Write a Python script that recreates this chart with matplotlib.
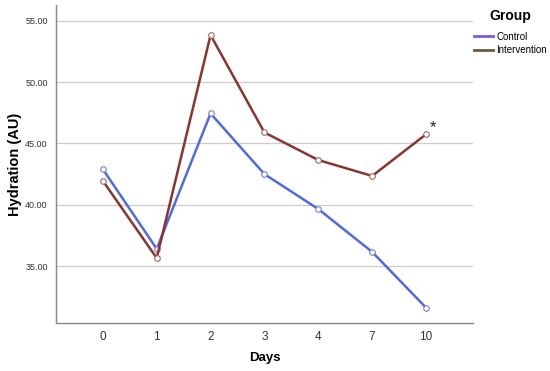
import matplotlib
matplotlib.use("Agg")
import matplotlib.pyplot as plt
from matplotlib.lines import Line2D

days = ["0", "1", "2", "3", "4", "7", "10"]
control = [42.9, 36.4, 47.45, 42.5, 39.65, 36.15, 31.6]
intervention = [41.95, 35.65, 53.85, 45.9, 43.65, 42.35, 45.75]
yticks = [35.0, 40.0, 45.0, 50.0, 55.0]

plt.rcParams['font.family'] = ['Liberation Sans', 'DejaVu Sans']

fig = plt.figure(figsize=(5.5, 3.71), dpi=100)
ax = fig.add_axes([0.1018, 0.1294, 0.758, 0.857])

x = list(range(len(days)))
ax.plot(x, control, color='#4f6bde', lw=1.8, marker='o', ms=4, mfc='white',
        mec='#7a7ad8', mew=0.8, zorder=3)
ax.plot(x, intervention, color='#8a3430', lw=1.8, marker='o', ms=4, mfc='white',
        mec='#9a6a60', mew=0.8, zorder=4)
ax.text(x[-1] + 0.12, intervention[-1] + 0.55, '*', fontsize=12, color='#222222',
        ha='center', va='center')

ax.set_xlim(-0.87, 6.87)
ax.set_ylim(30.35, 56.3)
ax.set_xticks(x)
ax.set_xticklabels(days, fontsize=8.5, color='#333333')
ax.set_yticks(yticks)
ax.set_yticklabels([f"{v:.2f}" for v in yticks], fontsize=6.5, color='#333333')
ax.tick_params(length=0, pad=6)
ax.tick_params(axis='x', pad=6)
ax.grid(axis='y', color='#cccccc', lw=0.9)
ax.set_axisbelow(True)
for s in ['top', 'right']:
    ax.spines[s].set_visible(False)
for s in ['left', 'bottom']:
    ax.spines[s].set_color('#888888')
    ax.spines[s].set_linewidth(1.0)

ax.set_xlabel('Days', fontsize=9.5, fontweight='bold', labelpad=6)
ax.set_ylabel('Hydration (AU)', fontsize=10.5, fontweight='bold', labelpad=2)

handles = [Line2D([0], [0], color='#7b5ce0', lw=2),
           Line2D([0], [0], color='#6b5a40', lw=2)]
leg = fig.legend(handles, ['Control', 'Intervention'], title='Group',
                 loc='upper left', bbox_to_anchor=(0.862, 0.975), frameon=False,
                 fontsize=7, handlelength=1.9, handletextpad=0.4, labelspacing=0.4,
                 borderaxespad=0, borderpad=0)
leg.get_title().set_fontweight('bold')
leg.get_title().set_fontsize(10)
leg._legend_box.sep = 6

fig.savefig('out.png', dpi=100)
